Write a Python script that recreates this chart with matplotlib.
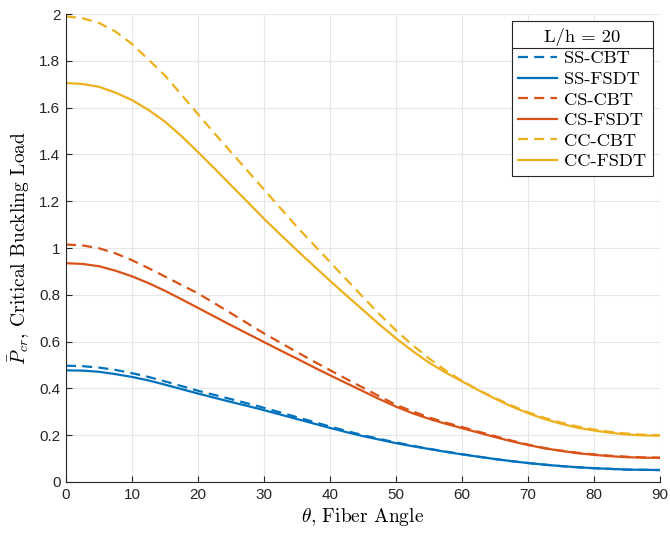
import matplotlib
matplotlib.use("Agg")
import matplotlib.pyplot as plt
from matplotlib.ticker import FuncFormatter, MultipleLocator
from matplotlib.lines import Line2D

theta = [0, 2.5, 5, 7.5, 10, 12.5, 15, 17.5, 20, 22.5, 25, 27.5, 30, 32.5, 35, 37.5,
         40, 42.5, 45, 47.5, 50, 52.5, 55, 57.5, 60, 62.5, 65, 67.5, 70, 72.5, 75, 77.5,
         80, 82.5, 85, 87.5, 90]

ss_cbt = [0.497, 0.495, 0.489, 0.479, 0.465, 0.449, 0.430, 0.410, 0.390, 0.372, 0.354, 0.336,
          0.317, 0.297, 0.277, 0.257, 0.237, 0.218, 0.200, 0.184, 0.169, 0.155, 0.142, 0.130,
          0.119, 0.108, 0.098, 0.089, 0.081, 0.074, 0.068, 0.063, 0.059, 0.056, 0.053, 0.052, 0.051]
ss_fsdt = [0.477, 0.476, 0.471, 0.461, 0.449, 0.434, 0.416, 0.397, 0.378, 0.360, 0.342, 0.325,
           0.307, 0.288, 0.269, 0.250, 0.231, 0.213, 0.196, 0.181, 0.166, 0.153, 0.141, 0.129,
           0.118, 0.108, 0.098, 0.089, 0.081, 0.074, 0.068, 0.063, 0.059, 0.056, 0.053, 0.052, 0.051]
cs_cbt = [1.015, 1.011, 0.999, 0.977, 0.948, 0.914, 0.878, 0.842, 0.806, 0.764, 0.721, 0.678,
          0.635, 0.595, 0.555, 0.516, 0.478, 0.440, 0.403, 0.366, 0.330, 0.302, 0.276, 0.254,
          0.235, 0.215, 0.196, 0.177, 0.160, 0.145, 0.134, 0.125, 0.118, 0.112, 0.108, 0.105, 0.104]
cs_fsdt = [0.935, 0.932, 0.922, 0.903, 0.879, 0.850, 0.817, 0.781, 0.744, 0.707, 0.670, 0.634,
           0.598, 0.562, 0.527, 0.491, 0.456, 0.422, 0.388, 0.354, 0.322, 0.294, 0.270, 0.249,
           0.230, 0.211, 0.192, 0.174, 0.158, 0.144, 0.133, 0.123, 0.116, 0.110, 0.106, 0.104, 0.103]
cc_cbt = [1.990, 1.982, 1.962, 1.925, 1.872, 1.805, 1.737, 1.655, 1.572, 1.490, 1.410, 1.330,
          1.250, 1.170, 1.090, 1.015, 0.940, 0.865, 0.790, 0.717, 0.648, 0.585, 0.528, 0.477,
          0.432, 0.393, 0.359, 0.327, 0.298, 0.274, 0.254, 0.237, 0.224, 0.214, 0.207, 0.202, 0.200]
cc_fsdt = [1.705, 1.701, 1.689, 1.664, 1.632, 1.590, 1.540, 1.478, 1.410, 1.340, 1.268, 1.197,
           1.125, 1.057, 0.990, 0.925, 0.860, 0.797, 0.735, 0.673, 0.614, 0.560, 0.510, 0.468,
           0.430, 0.392, 0.356, 0.323, 0.294, 0.269, 0.249, 0.232, 0.220, 0.210, 0.203, 0.199, 0.198]

labels = ["SS-CBT", "SS-FSDT", "CS-CBT", "CS-FSDT", "CC-CBT", "CC-FSDT"]
legend_title = "L/h = 20"
xticks = list(range(0, 91, 10))

plt.rcParams["mathtext.fontset"] = "cm"
plt.rcParams["font.family"] = ["Liberation Sans", "DejaVu Sans"]

blue, red, yellow = "#0072BD", "#D95319", "#EDB120"

fig = plt.figure(figsize=(6.7, 5.33), dpi=100)
ax = fig.add_axes([0.0985, 0.0957, 0.8866, 0.878])

series = [ss_cbt, ss_fsdt, cs_cbt, cs_fsdt, cc_cbt, cc_fsdt]
colors = [blue, blue, red, red, yellow, yellow]
styles = ["--", "-", "--", "-", "--", "-"]
for y, c, s, lab in zip(series, colors, styles, labels):
    kw = dict(dashes=(4.5, 2.8)) if s == "--" else {}
    ax.plot(theta, y, s, color=c, lw=1.6, label=lab, **kw)

ax.set_xlim(0, 90)
ax.set_ylim(0, 2)
ax.set_xticks(xticks)
ax.yaxis.set_major_locator(MultipleLocator(0.2))
ax.yaxis.set_major_formatter(FuncFormatter(lambda v, p: "%g" % round(v, 2)))
ax.grid(True, color="#e6e6e6", lw=0.8)
ax.set_axisbelow(True)
for sp in ["top", "right"]:
    ax.spines[sp].set_visible(False)
for sp in ["left", "bottom"]:
    ax.spines[sp].set_color("#262626")
    ax.spines[sp].set_linewidth(0.8)
ax.tick_params(direction="in", length=4, labelsize=11, colors="#262626", width=0.8, pad=4)

ax.set_xlabel(r"$\theta$, Fiber Angle", family="cmr10", fontsize=14, labelpad=3)
ax.set_ylabel(r"$\bar{P}_{cr}$, Critical Buckling Load", family="cmr10", fontsize=14, labelpad=5)

leg = ax.legend(loc="upper right", title=legend_title,
                prop={"family": "cmr10", "size": 13.3},
                title_fontproperties={"family": "cmr10", "size": 13.3},
                frameon=True, fancybox=False, edgecolor="#262626", framealpha=1,
                handlelength=2.1, handletextpad=0.38, labelspacing=0.25, borderpad=0.35,
                borderaxespad=0.4)
leg.get_frame().set_linewidth(0.8)

fig.canvas.draw()
r = fig.canvas.get_renderer()
fb = leg.get_frame().get_window_extent(r)
tb = leg.get_title().get_window_extent(r)
t0 = leg.get_texts()[0].get_window_extent(r)
ysep = (tb.y0 + t0.y1) / 2
inv = fig.transFigure.inverted()
(x0, y0) = inv.transform((fb.x0, ysep))
(x1, _) = inv.transform((fb.x1, ysep))
fig.add_artist(Line2D([x0, x1], [y0, y0], color="#262626", lw=0.8, transform=fig.transFigure))

fig.savefig("out.png", dpi=100, facecolor="white")
